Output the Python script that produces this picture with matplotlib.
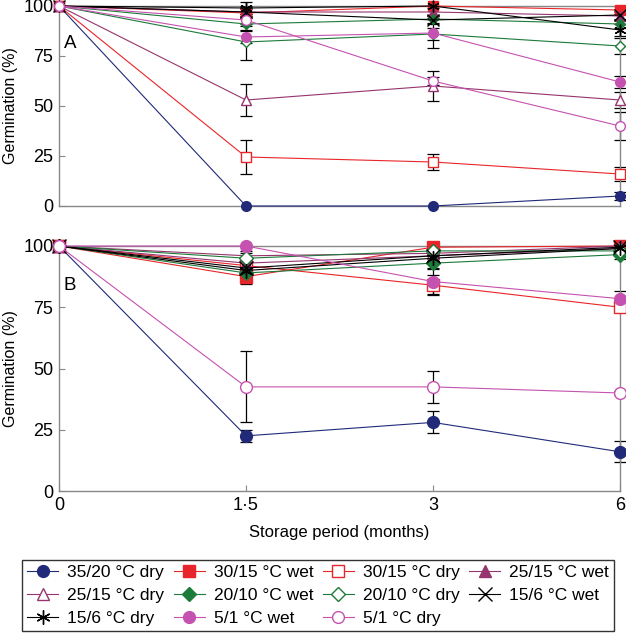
import numpy as np
import matplotlib
matplotlib.use("Agg")
import matplotlib.pyplot as plt

plt.rcParams['font.family'] = ['Liberation Sans', 'DejaVu Sans']

months = ["0", "1·5", "3", "6"]
labels = ["35/20 °C dry", "30/15 °C wet", "30/15 °C dry", "25/15 °C wet",
          "25/15 °C dry", "20/10 °C wet", "20/10 °C dry", "15/6 °C wet",
          "15/6 °C dry", "5/1 °C wet", "5/1 °C dry"]

# panel A values
a_vals = [
    [100, 0, 0, 5],
    [100, 96.5, 100, 98],
    [100, 24.5, 22, 16],
    [100, 97, 97, 95],
    [100, 53, 60, 53],
    [100, 91, 93.5, 91],
    [100, 82, 86, 80],
    [100, 97, 93, 95.5],
    [100, 99, 100, 88],
    [100, 84.5, 86.5, 62],
    [100, 93, 62.5, 40],
]
a_err = [
    [0, 0, 0, 2],
    [0, 2, 0, 2],
    [0, 8.5, 4, 3.5],
    [0, 2, 2, 2],
    [0, 8, 7.5, 4],
    [0, 3, 2, 2],
    [0, 9, 3, 4],
    [0, 2, 2, 2],
    [0, 3, 0, 3],
    [0, 3, 7.5, 3],
    [0, 3, 2, 7],
]

# panel B values
b_vals = [
    [100, 22.5, 28, 16],
    [100, 87.5, 99.5, 100],
    [100, 92, 84, 75],
    [100, 93, 96, 99],
    [100, 96, 97, 100],
    [100, 89, 93, 96.5],
    [100, 95, 98, 98],
    [100, 91, 96, 99.5],
    [100, 90, 95, 99],
    [100, 100, 85.5, 78.5],
    [100, 42.5, 42.5, 40],
]
b_err = [
    [0, 2.5, 4.5, 4.3],
    [0, 3, 1.5, 1],
    [0, 2, 4, 2],
    [0, 2, 2, 1],
    [0, 2, 2, 1],
    [0, 2, 2, 2],
    [0, 2, 2, 1],
    [0, 2, 2, 1],
    [0, 2, 2, 1],
    [0, 0, 5, 3],
    [0, 14.5, 6.5, 1],
]

navy = "#202a78"
red = "#e8252a"
purple = "#96346e"
green = "#1c7a3a"
pink = "#c552b0"
colors = [navy, red, red, purple, purple, green, green, "black", "black", pink, pink]
markers = ["o", "s", "s", "^", "^", "D", "D", "x", (6, 2, 0), "o", "o"]
filled = [True, True, False, True, False, True, False, True, True, True, False]

fig = plt.figure(figsize=(6.26, 6.4), dpi=100)
axA = fig.add_axes([59 / 626, 1 - 206 / 640, 561 / 626, 200 / 640])
axB = fig.add_axes([59 / 626, 1 - 491 / 640, 561 / 626, 245 / 640])

x = np.arange(len(months))
handles = []
for ax, vals, errs, ms in [(axA, a_vals, a_err, 7), (axB, b_vals, b_err, 8.5)]:
    for i in range(len(labels)):
        v = np.array(vals[i], dtype=float)
        e = np.array(errs[i], dtype=float)
        m = e > 0
        ax.errorbar(x[m], v[m], yerr=e[m], fmt="none", ecolor="black",
                    elinewidth=0.9, capsize=4, capthick=0.9, zorder=2, clip_on=False)
        mfc = colors[i] if filled[i] else "white"
        msz = ms
        if markers[i] == "D":
            msz = ms * 0.8
        if markers[i] == "x" or markers[i] == (6, 2, 0):
            msz = ms * 1.2
        ln, = ax.plot(x, v, color=colors[i], lw=0.8, marker=markers[i], ms=msz,
                      mfc=mfc, mec=colors[i], mew=1.0, zorder=3 + i * 0.01,
                      clip_on=False, label=labels[i])
        if ax is axB:
            handles.append(ln)

for ax in (axA, axB):
    ax.set_xlim(0, 3)
    ax.set_ylim(0, 100)
    ax.set_yticks([0, 25, 50, 75, 100])
    ax.set_xticks(x)
    ax.tick_params(direction="in", length=4, color="#888888", labelsize=13, pad=4)
    for s in ax.spines.values():
        s.set_color("#888888")
        s.set_linewidth(1.0)
    ax.set_ylabel("Germination (%)", fontsize=11.5)
    ax.yaxis.set_label_coords(-0.073, 0.5)

axA.set_xticklabels([])
axA.tick_params(axis="x", length=0)
axB.set_xticklabels(months)
axB.set_xlabel("Storage period (months)", fontsize=12, labelpad=8)

axA.text(0.008, 0.815, "A", transform=axA.transAxes, fontsize=13.5, va="center")
axB.text(0.008, 0.84, "B", transform=axB.transAxes, fontsize=13.5, va="center")

order = [0, 4, 8, 1, 5, 9, 2, 6, 10, 3, 7]
fig.legend([handles[k] for k in order], [labels[k] for k in order],
           ncol=4, loc="lower center", bbox_to_anchor=(0.508, 0.0),
           fontsize=12.5, frameon=True, fancybox=False, edgecolor="black",
           handlelength=1.8, handletextpad=0.5, columnspacing=0.55,
           labelspacing=0.45, borderpad=0.3)

fig.savefig("out.png", dpi=100)
